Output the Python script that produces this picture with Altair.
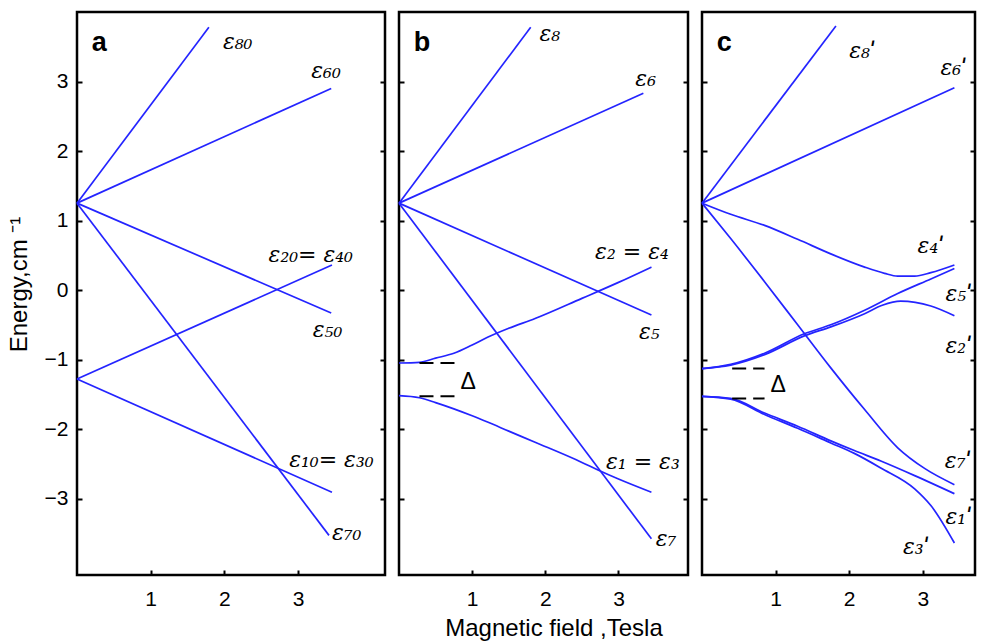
import altair as alt
import pandas as pd

# ---------------- shared axes ----------------
Y_DOMAIN = [-4.1, 4.0]
Y_TICKS = [-3, -2, -1, 0, 1, 2, 3]
X_TICKS = [1, 2, 3]
X_TITLE = "Magnetic field ,Tesla"
Y_TITLE = "Energy,cm ⁻¹"

# ---------------- panel a (straight levels) ----------------
A_E8_X = [0.0, 1.79]
A_E8_Y = [1.25, 3.78]
A_E6_X = [0.0, 3.45]
A_E6_Y = [1.25, 2.90]
A_E5_X = [0.0, 3.45]
A_E5_Y = [1.25, -0.33]
A_E7_X = [0.0, 3.42]
A_E7_Y = [1.25, -3.53]
A_E24_X = [0.0, 3.46]
A_E24_Y = [-1.28, 0.36]
A_E13_X = [0.0, 3.46]
A_E13_Y = [-1.28, -2.91]
A_LABELS = ["ε₈₀", "ε₆₀", "ε₂₀= ε₄₀", "ε₅₀", "ε₁₀= ε₃₀", "ε₇₀"]
A_LABEL_X = [1.98, 3.18, 2.60, 3.20, 2.88, 3.46]
A_LABEL_Y = [3.57, 3.15, 0.50, -0.58, -2.45, -3.50]

# ---------------- panel b (gap at zero field) ----------------
B_E8_X = [0.0, 1.80]
B_E8_Y = [1.25, 3.78]
B_E6_X = [0.0, 3.34]
B_E6_Y = [1.25, 2.83]
B_E5_X = [0.0, 3.45]
B_E5_Y = [1.25, -0.36]
B_E7_X = [0.0, 3.45]
B_E7_Y = [1.25, -3.58]
B_E24_X = [0.0, 0.28, 0.50, 0.75, 1.00, 1.21, 1.50, 1.86, 2.50, 3.00, 3.45]
B_E24_Y = [-1.05, -1.04, -0.98, -0.91, -0.79, -0.68, -0.55, -0.41, -0.12, 0.11, 0.33]
B_E13_X = [0.0, 0.28, 0.50, 0.75, 1.00, 1.21, 1.50, 1.86, 2.50, 2.72, 3.00, 3.45]
B_E13_Y = [-1.52, -1.55, -1.62, -1.71, -1.81, -1.90, -2.03, -2.19, -2.48, -2.59, -2.72, -2.91]
B_LABELS = ["ε₈", "ε₆", "ε₂ = ε₄", "ε₅", "ε₁ = ε₃", "ε₇"]
B_LABEL_X = [1.92, 3.23, 2.68, 3.28, 2.83, 3.51]
B_LABEL_Y = [3.69, 3.03, 0.55, -0.60, -2.47, -3.58]
B_GAP_X = [0.28, 0.82]
B_GAP_Y = [-1.05, -1.53]
B_DELTA_X = [0.84]
B_DELTA_Y = [-1.33]

# ---------------- panel c (anticrossings) ----------------
C_E8_X = [0.0, 1.82]
C_E8_Y = [1.25, 3.80]
C_E6_X = [0.0, 3.43]
C_E6_Y = [1.25, 2.91]
C_E4_X = [0.0, 0.39, 0.85, 1.30, 1.75, 2.21, 2.48, 2.66, 2.89, 3.11, 3.43]
C_E4_Y = [1.25, 1.09, 0.93, 0.73, 0.52, 0.33, 0.24, 0.20, 0.20, 0.25, 0.36]
C_E7_X = [0.0, 0.39, 0.85, 1.30, 1.75, 2.21, 2.66, 3.03, 3.43]
C_E7_Y = [1.25, 0.74, 0.12, -0.50, -1.12, -1.72, -2.27, -2.57, -2.80]
C_E5_X = [0.0, 0.39, 0.85, 1.39, 1.75, 2.21, 2.66, 3.11, 3.43]
C_E5_Y = [-1.13, -1.07, -0.91, -0.63, -0.50, -0.29, -0.05, 0.16, 0.31]
C_E2_X = [0.0, 0.39, 0.85, 1.39, 1.75, 2.21, 2.45, 2.70, 3.11, 3.43]
C_E2_Y = [-1.13, -1.08, -0.93, -0.66, -0.53, -0.34, -0.22, -0.16, -0.23, -0.37]
C_E1_X = [0.0, 0.39, 0.85, 1.30, 1.75, 2.07, 2.43, 2.89, 3.43]
C_E1_Y = [-1.53, -1.56, -1.77, -1.96, -2.17, -2.31, -2.46, -2.67, -2.93]
C_E3_X = [0.0, 0.39, 0.85, 1.30, 1.75, 2.07, 2.43, 2.89, 3.11, 3.43]
C_E3_Y = [-1.53, -1.57, -1.79, -1.99, -2.20, -2.35, -2.56, -2.86, -3.10, -3.64]
C_LABELS = ["ε₈ˈ", "ε₆ˈ", "ε₄ˈ", "ε₅ˈ", "ε₂ˈ", "ε₇ˈ", "ε₁ˈ", "ε₃ˈ"]
C_LABEL_X = [2.00, 3.24, 2.93, 3.31, 3.31, 3.30, 3.31, 2.73]
C_LABEL_Y = [3.44, 3.20, 0.64, -0.06, -0.81, -2.46, -3.27, -3.70]
C_GAP_X = [0.41, 0.85]
C_GAP_Y = [-1.13, -1.56]
C_DELTA_X = [0.93]
C_DELTA_Y = [-1.36]

PANEL_LETTERS = ["a", "b", "c"]
LETTER_X = [0.20, 0.20, 0.20]
LETTER_Y = [3.56, 3.56, 3.56]

BLUE = "#2424ff"
SANS = "Liberation Sans"
EPS_FONT = "DejaVu Serif"


def curves_frame(curves):
    rows = []
    for name, xs, ys in curves:
        for i, (x, y) in enumerate(zip(xs, ys)):
            rows.append({"curve": name, "x": x, "y": y, "i": i})
    return pd.DataFrame(rows)


def make_panel(curves, labels, lx, ly, letter_idx, xmax, width,
               gap_x=None, gap_y=None, dx=None, dy=None,
               first=False, titled=False):
    xs = alt.Scale(domain=[0, xmax], nice=False, zero=False)
    ys = alt.Scale(domain=Y_DOMAIN, nice=False, zero=False)

    x_axis_kw = dict(values=X_TICKS, tickSize=5, offset=-5, domain=False, grid=False,
                     labelPadding=13, labelFont=SANS, labelFontSize=21,
                     labelColor="black", tickColor="black", tickWidth=2,
                     minExtent=0, title=None)
    if titled:
        x_axis_kw.update(title=X_TITLE, titleFont=SANS, titleFontSize=24,
                         titleFontWeight="normal", titleColor="black",
                         titlePadding=7, titleX=width / 2 + 10)
    x_axis = alt.Axis(**x_axis_kw)

    y_left_kw = dict(values=Y_TICKS, tickSize=5, offset=-5, domain=False, grid=False,
                     orient="left", labels=first, labelPadding=9, labelFont=SANS,
                     labelFontSize=21, labelColor="black", tickColor="black",
                     tickWidth=2, minExtent=0, title=None)
    if first:
        y_left_kw.update(title=Y_TITLE, titleFont=SANS, titleFontSize=24,
                         titleFontWeight="normal", titleColor="black",
                         titlePadding=13, titleY=272)
    y_right = alt.Axis(values=Y_TICKS, tickSize=5, offset=-5, domain=False, grid=False,
                       orient="right", labels=False, tickColor="black", tickWidth=2,
                       minExtent=0, maxExtent=5, title=None)

    lines = alt.Chart(curves_frame(curves)).mark_line(
        color=BLUE, strokeWidth=1.7, interpolate="monotone"
    ).encode(
        x=alt.X("x:Q", scale=xs, axis=x_axis),
        y=alt.Y("y:Q", scale=ys, axis=alt.Axis(**y_left_kw)),
        detail="curve:N",
        order="i:Q",
    )

    lab_df = pd.DataFrame({"label": labels, "x": lx, "y": ly})
    text = alt.Chart(lab_df).mark_text(
        align="left", baseline="middle", font=EPS_FONT, fontSize=22,
        fontStyle="italic", color="black"
    ).encode(
        x=alt.X("x:Q", scale=xs, axis=x_axis),
        y=alt.Y("y:Q", scale=ys, axis=y_right),
        text="label:N",
    )

    let_df = pd.DataFrame({"t": [PANEL_LETTERS[letter_idx]],
                           "x": [LETTER_X[letter_idx]], "y": [LETTER_Y[letter_idx]]})
    letter = alt.Chart(let_df).mark_text(
        align="left", baseline="middle", font=SANS, fontSize=27,
        fontWeight="bold", color="black"
    ).encode(
        x=alt.X("x:Q", scale=xs, axis=x_axis),
        y=alt.Y("y:Q", scale=ys, axis=None),
        text="t:N",
    )

    layers = [lines, text, letter]
    if gap_x is not None:
        gdf = pd.DataFrame({"x": [gap_x[0]] * len(gap_y), "x2": [gap_x[1]] * len(gap_y),
                            "y": gap_y})
        gap = alt.Chart(gdf).mark_rule(color="black", strokeWidth=2,
                                       strokeDash=[14, 7]).encode(
            x=alt.X("x:Q", scale=xs, axis=x_axis),
            x2="x2:Q",
            y=alt.Y("y:Q", scale=ys, axis=None),
        )
        ddf = pd.DataFrame({"t": ["Δ"], "x": dx, "y": dy})
        delta = alt.Chart(ddf).mark_text(
            align="left", baseline="middle", font=SANS, fontSize=23, color="black"
        ).encode(
            x=alt.X("x:Q", scale=xs, axis=x_axis),
            y=alt.Y("y:Q", scale=ys, axis=None),
            text="t:N",
        )
        layers += [gap, delta]

    return alt.layer(*layers).resolve_axis(y="independent").properties(
        width=width, height=563)


panel_a = make_panel(
    [("e8", A_E8_X, A_E8_Y), ("e6", A_E6_X, A_E6_Y), ("e5", A_E5_X, A_E5_Y),
     ("e7", A_E7_X, A_E7_Y), ("e24", A_E24_X, A_E24_Y), ("e13", A_E13_X, A_E13_Y)],
    A_LABELS, A_LABEL_X, A_LABEL_Y, 0, 4.18, 308, first=True)

panel_b = make_panel(
    [("e8", B_E8_X, B_E8_Y), ("e6", B_E6_X, B_E6_Y), ("e5", B_E5_X, B_E5_Y),
     ("e7", B_E7_X, B_E7_Y), ("e24", B_E24_X, B_E24_Y), ("e13", B_E13_X, B_E13_Y)],
    B_LABELS, B_LABEL_X, B_LABEL_Y, 1, 3.95, 289,
    gap_x=B_GAP_X, gap_y=B_GAP_Y, dx=B_DELTA_X, dy=B_DELTA_Y, titled=True)

panel_c = make_panel(
    [("e8", C_E8_X, C_E8_Y), ("e6", C_E6_X, C_E6_Y), ("e4", C_E4_X, C_E4_Y),
     ("e7", C_E7_X, C_E7_Y), ("e5", C_E5_X, C_E5_Y), ("e2", C_E2_X, C_E2_Y),
     ("e1", C_E1_X, C_E1_Y), ("e3", C_E3_X, C_E3_Y)],
    C_LABELS, C_LABEL_X, C_LABEL_Y, 2, 3.71, 273,
    gap_x=C_GAP_X, gap_y=C_GAP_Y, dx=C_DELTA_X, dy=C_DELTA_Y)

chart = alt.hconcat(panel_a, panel_b, panel_c, spacing=14, bounds="flush").properties(
    padding={"left": 5, "top": 10, "right": 0, "bottom": 0},
    background="white",
).configure_view(stroke="black", strokeWidth=2.5)

chart.save("out.html", embed_options={"renderer": "svg", "actions": False})
